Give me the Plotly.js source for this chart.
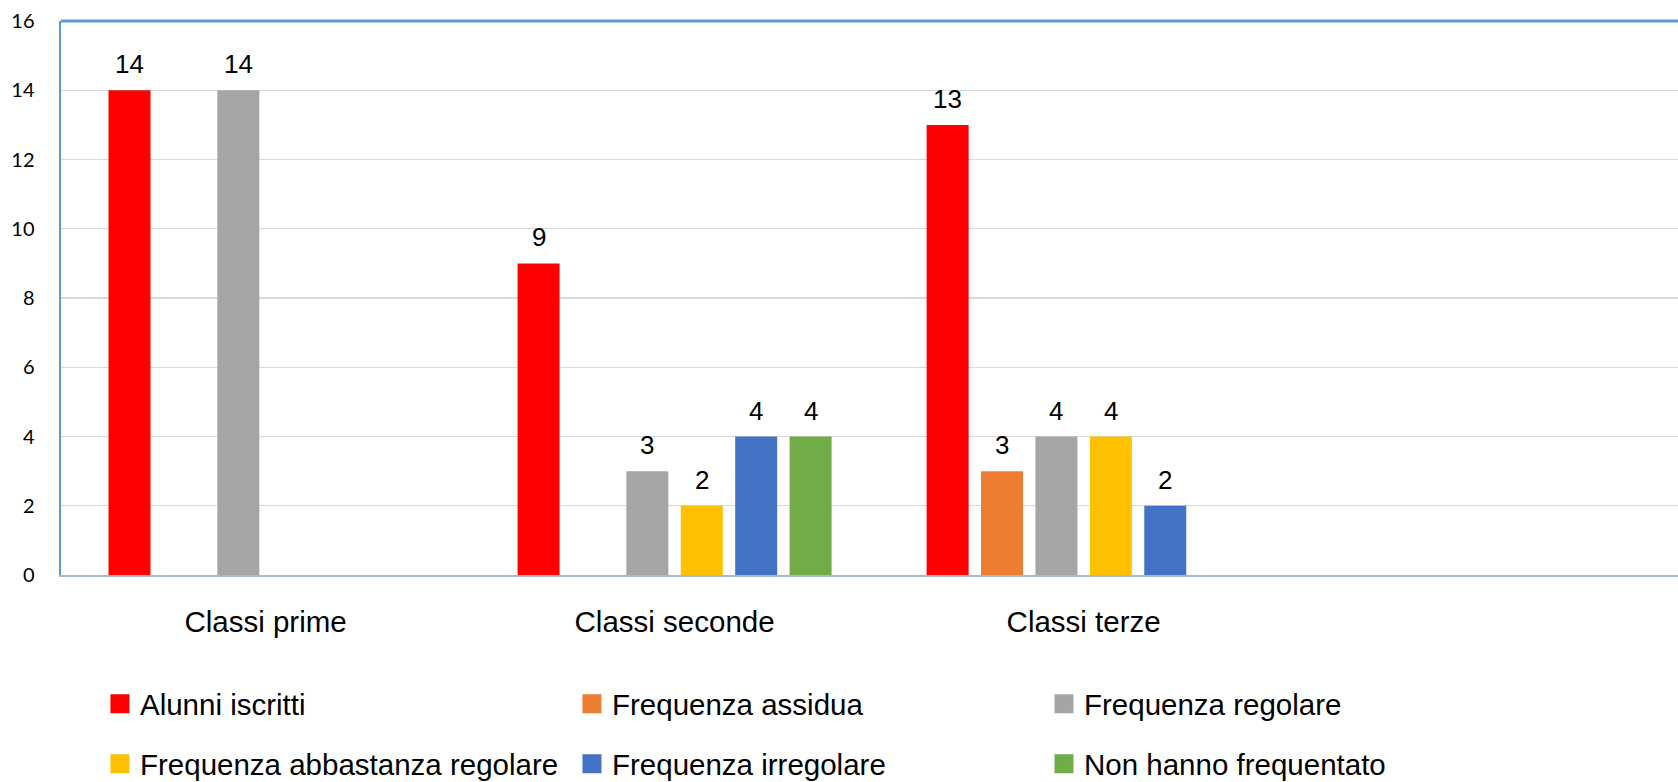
<!DOCTYPE html>
<html>
<head>
<meta charset="utf-8">
<script src="https://cdn.plot.ly/plotly-3.0.1.min.js"></script>
<style>
html,body{margin:0;padding:0;background:#fff;}
#chart{width:1678px;height:782px;}
</style>
</head>
<body>
<div id="chart"></div>
<script>
// ---- data ----
const categories = ['Classi prime', 'Classi seconde', 'Classi terze'];
const seriesNames = [
  'Alunni iscritti',
  'Frequenza assidua',
  'Frequenza regolare',
  'Frequenza abbastanza regolare',
  'Frequenza irregolare',
  'Non hanno frequentato'
];
const alunniIscritti = [14, 9, 13];
const frequenzaAssidua = [null, null, 3];
const frequenzaRegolare = [14, 3, 4];
const frequenzaAbbastanzaRegolare = [null, 2, 4];
const frequenzaIrregolare = [null, 4, 2];
const nonHannoFrequentato = [null, 4, null];
const seriesValues = [alunniIscritti, frequenzaAssidua, frequenzaRegolare,
  frequenzaAbbastanzaRegolare, frequenzaIrregolare, nonHannoFrequentato];
const colors = ['#FF0000', '#ED7D31', '#A5A5A5', '#FFC000', '#4472C4', '#70AD47'];
const yTicks = [0, 2, 4, 6, 8, 10, 12, 14, 16];

// ---- style ----
const BARGAP = 0.202;
const BARGROUPGAP = 0.228;
const labelFont = {family: 'Liberation Sans, Arial, sans-serif', size: 26, color: '#000'};
const bigFont = {family: 'Liberation Sans, Arial, sans-serif', size: 29.5, color: '#000'};

const traces = [];
seriesNames.forEach((name, s) => {
  traces.push({
    type: 'bar',
    name: name,
    x: categories,
    y: seriesValues[s],
    marker: {color: colors[s]},
    showlegend: false,
    hoverinfo: 'x+y+name'
  });
});
// legend entries (larger square swatches)
seriesNames.forEach((name, s) => {
  traces.push({
    type: 'scatter',
    mode: 'markers',
    name: name,
    x: [null],
    y: [null],
    marker: {symbol: 'square', size: 16, color: colors[s], line: {color: colors[s], width: 3}},
    legend: s < 3 ? 'legend' : 'legend2',
    showlegend: true,
    hoverinfo: 'skip'
  });
});

// value labels above bars
const annotations = [];
const slot = (1 - BARGAP) / seriesNames.length;
seriesValues.forEach((vals, s) => {
  vals.forEach((v, i) => {
    if (v === null) return;
    annotations.push({
      xref: 'x', yref: 'y',
      x: i + (s - (seriesNames.length - 1) / 2) * slot,
      y: v,
      text: String(v),
      showarrow: false,
      yanchor: 'bottom',
      xanchor: 'center',
      yshift: 9,
      font: labelFont
    });
  });
});

const legendCommon = {
  orientation: 'h',
  x: 0.0241,
  xanchor: 'left',
  yanchor: 'middle',
  entrywidth: 427,
  entrywidthmode: 'pixels',
  font: bigFont,
  bgcolor: 'rgba(0,0,0,0)',
  itemsizing: 'trace',
  traceorder: 'normal'
};

const layout = {
  width: 1678,
  height: 782,
  margin: {l: 61, r: 0, t: 21, b: 207, pad: 0, autoexpand: false},
  paper_bgcolor: '#fff',
  plot_bgcolor: '#fff',
  barmode: 'group',
  bargap: BARGAP,
  bargroupgap: BARGROUPGAP,
  xaxis: {
    type: 'category',
    range: [-0.5, 3.453],
    showgrid: false,
    zeroline: false,
    showline: true,
    linecolor: '#A3B9D8',
    linewidth: 2,
    ticks: '',
    tickfont: bigFont,
    ticklabelstandoff: 20,
    fixedrange: true
  },
  yaxis: {
    range: [0, 16],
    tickvals: yTicks,
    ticktext: yTicks.map(String),
    showgrid: true,
    gridcolor: '#D9D9D9',
    gridwidth: 1.3,
    zeroline: false,
    showline: true,
    linecolor: '#5B9BD5',
    linewidth: 2.5,
    ticks: '',
    tickfont: {family: 'Lato, Carlito, sans-serif', size: 20, color: '#000'},
    ticklabelstandoff: 20,
    fixedrange: true
  },
  shapes: [{
    type: 'line', xref: 'paper', yref: 'paper',
    x0: 0, x1: 1, y0: 1, y1: 1,
    line: {color: '#5B9BD5', width: 3}
  }],
  annotations: annotations,
  legend: Object.assign({}, legendCommon, {y: -0.2329}),
  legend2: Object.assign({}, legendCommon, {y: -0.3412}),
  showlegend: true
};

Plotly.newPlot('chart', traces, layout, {displayModeBar: false, staticPlot: true});
</script>
</body>
</html>
